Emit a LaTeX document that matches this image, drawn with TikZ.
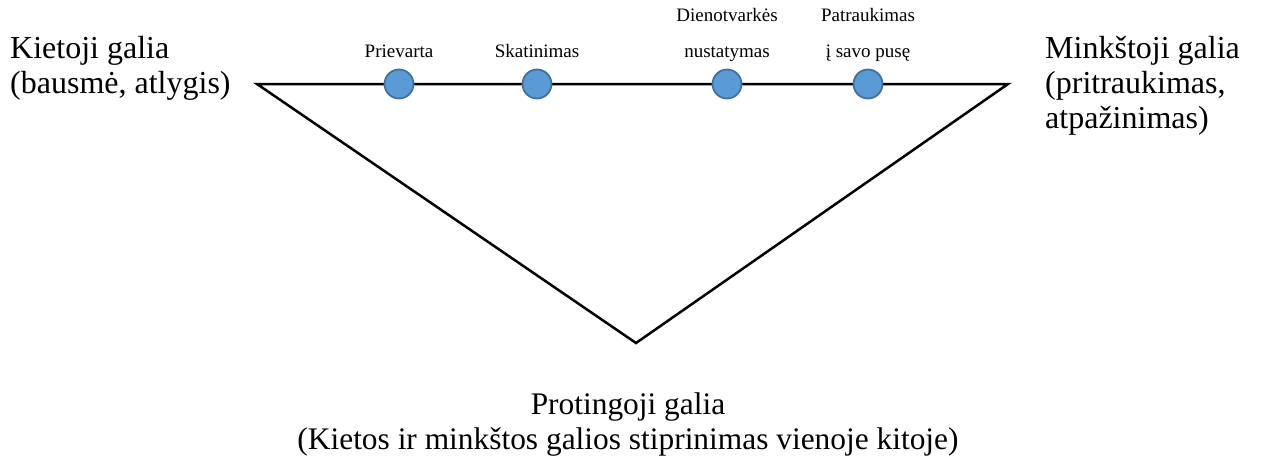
\documentclass[tikz,border=0pt]{standalone}
\usepackage{fontspec}
\setmainfont{Liberation Serif}
\usepackage{tikz}
\definecolor{dotblue}{HTML}{5B9BD5}
\definecolor{dotedge}{HTML}{41719C}
\tikzset{dot/.style={circle, minimum size=29pt, inner sep=0pt, fill=dotblue, draw=dotedge, line width=1.8pt}}
\tikzset{biglabel/.style={inner sep=0pt, font=\fontsize{32}{35}\selectfont}}
\tikzset{smalllabel/.style={inner sep=0pt, align=center, font=\fontsize{19}{36}\selectfont}}
\begin{document}
\begin{tikzpicture}[x=1pt, y=-1pt]
    \useasboundingbox (0,0) rectangle (1261,461);
    \coordinate (hard) at (257,84);
    \coordinate (soft) at (1008,84);
    \coordinate (smart) at (636,343);
    \draw [line width=2.5pt, line join=miter] (hard) -- (soft) -- (smart) -- cycle;
    \node [dot] (coercion) at (399,84) {};
    \node [dot] (inducement) at (537,84) {};
    \node [dot] (agenda) at (727,84) {};
    \node [dot] (attraction) at (868,84) {};
    % last line of each label sits on the same baseline
    \node [smalllabel, anchor=base] at (399,57) {Prievarta};
    \node [smalllabel, anchor=base] at (537,57) {Skatinimas};
    \node [smalllabel, anchor=base] at (727,57) {Dienotvarkės\\nustatymas};
    \node [smalllabel, anchor=base] at (868,57) {Patraukimas\\į savo pusę};
    \node [biglabel, align=left, anchor=base west] at (10,93) {Kietoji galia\\(bausmė, atlygis)};
    \node [biglabel, align=left, anchor=base west] at (1045,128) {Minkštoji galia\\(pritraukimas,\\atpažinimas)};
    \node [biglabel, font=\fontsize{31.4}{35}\selectfont, align=center, anchor=base] at (628,449) {Protingoji galia\\(Kietos ir minkštos galios stiprinimas vienoje kitoje)};
  \end{tikzpicture}
\end{document}
